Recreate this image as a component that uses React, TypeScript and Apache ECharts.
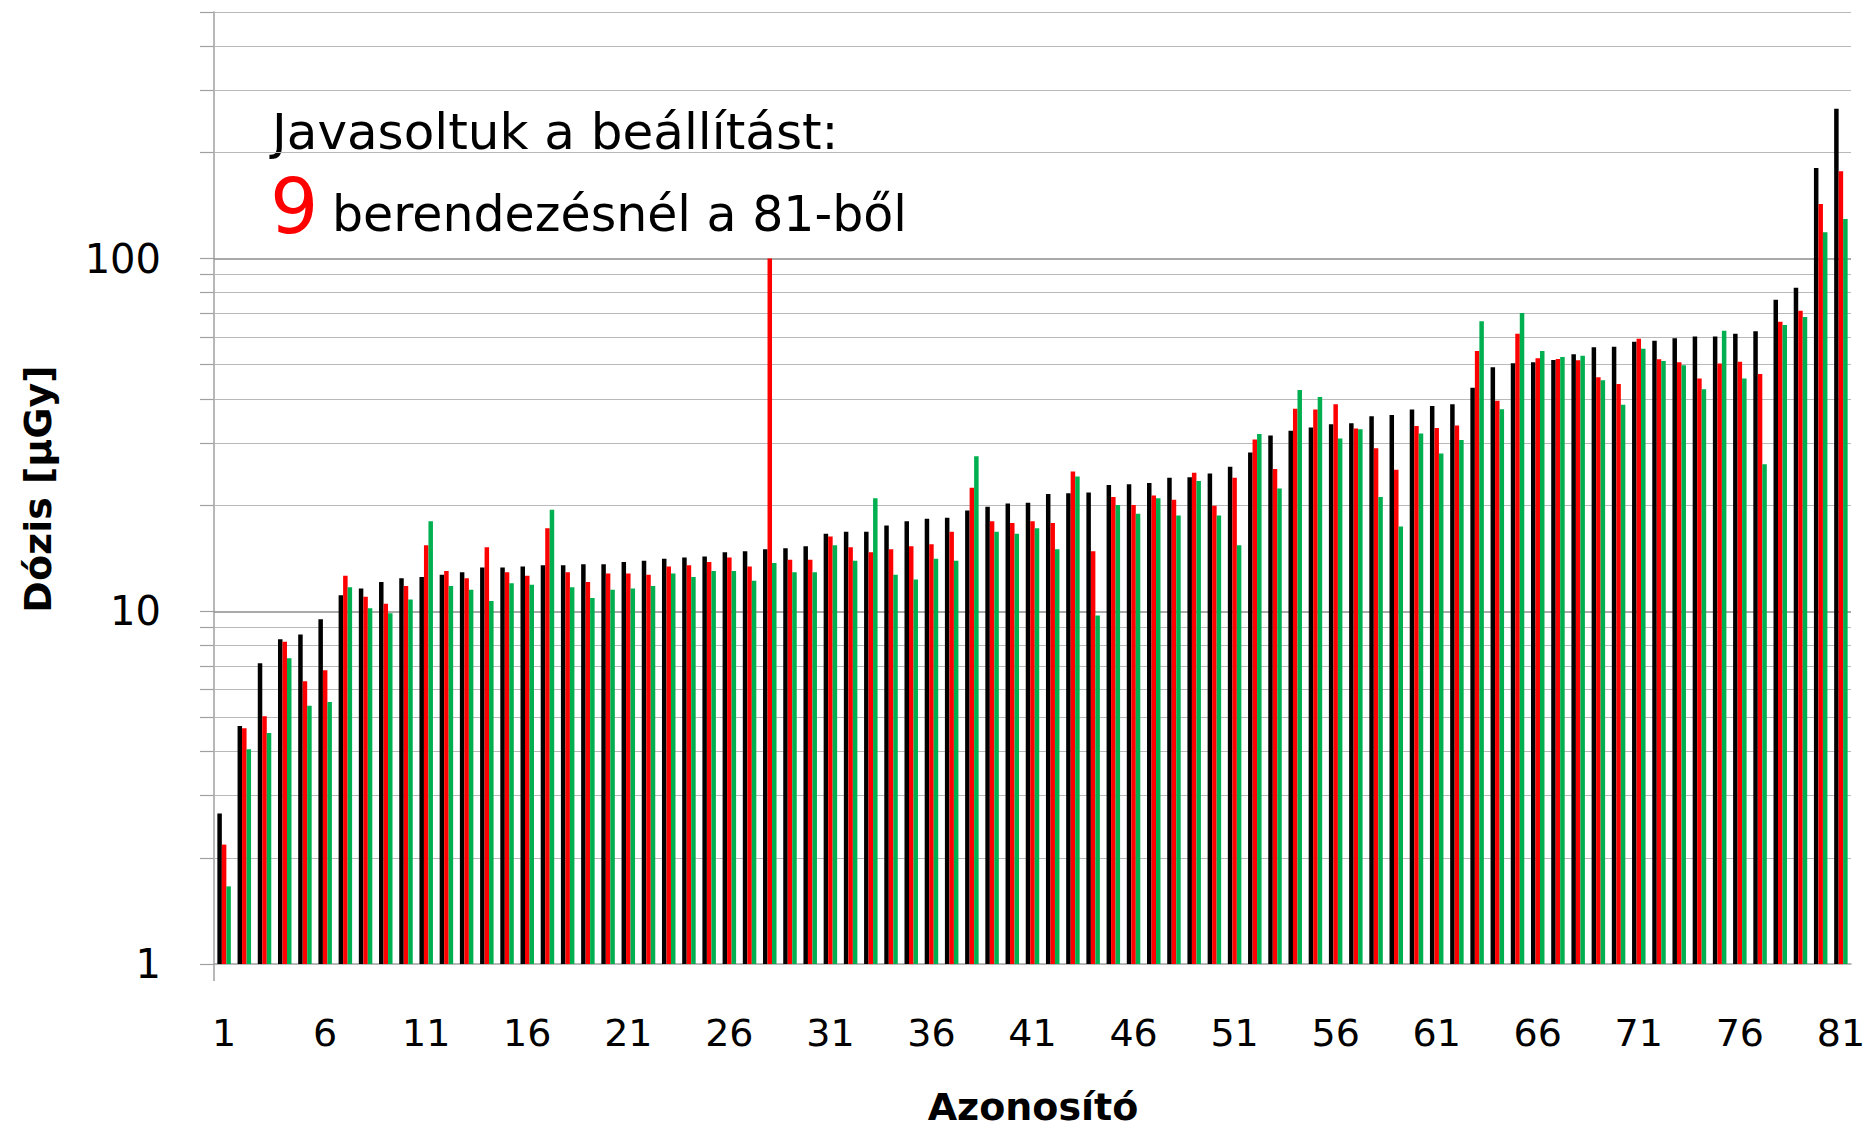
import React, { useEffect, useRef } from "react";
import * as echarts from "echarts";

const FONT = '"DejaVu Sans", "Noto Sans", sans-serif';

const categories: string[] = Array.from({ length: 81 }, (_, i) => String(i + 1));

const blackValues = [
  2.67, 4.73, 7.12, 8.33, 8.59, 9.5, 11.1, 11.6, 12.1, 12.4,
  12.5, 12.7, 12.9, 13.3, 13.3, 13.4, 13.5, 13.5, 13.6, 13.6,
  13.8, 13.9, 14.1, 14.2, 14.3, 14.7, 14.8, 15.0, 15.1, 15.3,
  16.6, 16.8, 16.8, 17.5, 18.0, 18.3, 18.4, 19.3, 19.8, 20.2,
  20.3, 21.5, 21.6, 21.7, 22.8, 22.9, 23.1, 23.9, 24.0, 24.6,
  25.7, 28.2, 31.5, 32.5, 33.2, 33.9, 34.1, 35.7, 36.0, 37.3,
  38.2, 38.6, 43.0, 49.2, 50.5, 50.8, 51.6, 53.5, 56.0, 56.2,
  58.1, 58.5, 59.4, 60.1, 60.1, 61.2, 62.2, 76.4, 82.6, 180.7,
  265.7,
];

const redValues = [
  2.18, 4.66, 5.04, 8.19, 6.33, 6.81, 12.6, 11.0, 10.5, 11.8,
  15.4, 13.0, 12.4, 15.2, 12.9, 12.6, 17.2, 12.9, 12.1, 12.8,
  12.8, 12.7, 13.4, 13.5, 13.8, 14.2, 13.4, 100, 14.0, 14.0,
  16.3, 15.2, 14.7, 15.0, 15.3, 15.5, 16.8, 22.4, 18.0, 17.8,
  18.0, 17.8, 24.9, 14.8, 21.1, 20.0, 21.3, 20.7, 24.7, 19.9,
  23.9, 30.7, 25.3, 37.5, 37.3, 38.6, 33.0, 29.0, 25.2, 33.5,
  33.1, 33.6, 54.7, 39.5, 61.2, 52.2, 51.9, 51.5, 46.1, 44.1,
  59.2, 51.8, 50.8, 45.7, 50.4, 51.0, 47.1, 66.2, 71.1, 142.7,
  176.7,
];

const greenValues = [
  1.66, 4.06, 4.52, 7.36, 5.4, 5.53, 11.7, 10.2, 9.87, 10.8,
  18.0, 11.8, 11.5, 10.7, 12.0, 11.9, 19.4, 11.7, 10.9, 11.5,
  11.6, 11.8, 12.8, 12.5, 13.0, 13.0, 12.2, 13.7, 12.9, 12.9,
  15.4, 13.9, 20.9, 12.7, 12.3, 14.1, 13.9, 27.5, 16.8, 16.6,
  17.2, 15.0, 24.1, 9.73, 20.0, 18.9, 20.9, 18.7, 23.4, 18.7,
  15.4, 31.8, 22.3, 42.4, 40.5, 30.9, 32.8, 21.1, 17.4, 31.9,
  28.0, 30.6, 66.4, 37.4, 70.1, 54.7, 52.6, 53.0, 45.2, 38.5,
  55.5, 51.2, 49.8, 42.6, 62.4, 45.7, 26.1, 64.8, 68.3, 118.8,
  129.5,
];

const yLabelValues = [1, 10, 100];
const yTickValues = [
  1, 2, 3, 4, 5, 6, 7, 8, 9,
  10, 20, 30, 40, 50, 60, 70, 80, 90,
  100, 200, 300, 400, 500,
];
const majorGridValues = [10, 100];
const minorGridValues = [
  2, 3, 4, 5, 6, 7, 8, 9,
  20, 30, 40, 50, 60, 70, 80, 90,
  200, 300, 400, 500,
];

const seriesColors = { black: "#000000", red: "#ff0000", green: "#00b050" };

export default function App() {
  const ref = useRef<HTMLDivElement>(null);

  useEffect(() => {
    if (!ref.current) return;
    const chart = echarts.init(ref.current, undefined, { renderer: "svg" });

    const gridLineData = [
      ...minorGridValues.map((v) => ({ yAxis: v, lineStyle: { color: "#b9b9b9", width: 1.2, type: "solid" } })),
      ...majorGridValues.map((v) => ({ yAxis: v, lineStyle: { color: "#8c8c8c", width: 1.6, type: "solid" } })),
    ];

    const barBase = {
      type: "bar",
      barWidth: 4.5,
      barGap: "0%",
      silent: true,
    };

    const option: any = {
      animation: false,
      textStyle: { fontFamily: FONT },
      grid: { left: 214, right: 21, top: 12, bottom: 164, containLabel: false },
      xAxis: {
        type: "category",
        data: categories,
        boundaryGap: true,
        axisLine: { show: true, lineStyle: { color: "#a0a0a0", width: 1.5 } },
        axisTick: { show: false },
        axisLabel: {
          interval: 4,
          fontSize: 38,
          color: "#000",
          margin: 50,
          fontFamily: FONT,
        },
        splitLine: { show: false },
      },
      yAxis: {
        type: "log",
        logBase: 10,
        min: 1,
        max: 500,
        interval: 1,
        axisLine: { show: true, lineStyle: { color: "#a0a0a0", width: 1.5 } },
        axisTick: {
          show: true,
          inside: false,
          length: 14,
          customValues: yTickValues,
          lineStyle: { color: "#a0a0a0", width: 1.2 },
        },
        axisLabel: {
          fontSize: 40,
          color: "#000",
          margin: 53,
          fontFamily: FONT,
          customValues: yLabelValues,
          formatter: (v: number) =>
            yLabelValues.some((l) => Math.abs(l - v) < 1e-6) ? String(Math.round(v)) : "",
        },
        splitLine: { show: false },
        minorTick: { show: false },
        minorSplitLine: { show: false },
      },
      series: [
        {
          ...barBase,
          name: "black",
          data: blackValues,
          itemStyle: { color: seriesColors.black },
          markLine: {
            silent: true,
            z: 1,
            symbol: ["none", "none"],
            label: { show: false },
            emphasis: { disabled: true },
            data: gridLineData,
          },
        },
        { ...barBase, name: "red", data: redValues, itemStyle: { color: seriesColors.red } },
        { ...barBase, name: "green", data: greenValues, itemStyle: { color: seriesColors.green } },
      ],
      graphic: [
        {
          type: "line",
          shape: { x1: 214, y1: 964, x2: 214, y2: 981 },
          style: { stroke: "#a0a0a0", lineWidth: 1.5 },
        },
        {
          type: "text",
          x: 38,
          y: 489,
          rotation: Math.PI / 2,
          style: {
            text: "Dózis [µGy]",
            fontSize: 38,
            fontWeight: "bold",
            fontFamily: FONT,
            fill: "#000",
            align: "center",
            verticalAlign: "middle",
          },
        },
        {
          type: "text",
          x: 1033,
          y: 1126,
          style: {
            text: "Azonosító",
            fontSize: 38,
            fontWeight: "bold",
            fontFamily: FONT,
            fill: "#000",
            align: "center",
            verticalAlign: "bottom",
          },
        },
        {
          type: "text",
          x: 272,
          y: 132,
          style: {
            text: "Javasoltuk a beállítást:",
            fontSize: 50,
            fontFamily: FONT,
            fill: "#000",
            align: "left",
            verticalAlign: "middle",
          },
        },
        {
          type: "text",
          x: 270,
          y: 206,
          style: {
            text: "9",
            fontSize: 76,
            fontFamily: FONT,
            fill: "#ff0000",
            align: "left",
            verticalAlign: "middle",
          },
        },
        {
          type: "text",
          x: 332,
          y: 214,
          style: {
            text: "berendezésnél a 81-ből",
            fontSize: 49,
            fontFamily: FONT,
            fill: "#000",
            align: "left",
            verticalAlign: "middle",
          },
        },
      ],
    };

    chart.setOption(option);
    return () => chart.dispose();
  }, []);

  return (
    <div
      ref={ref}
      style={{ position: "absolute", left: 0, top: 0, width: 1872, height: 1128, background: "#fff" }}
    />
  );
}
